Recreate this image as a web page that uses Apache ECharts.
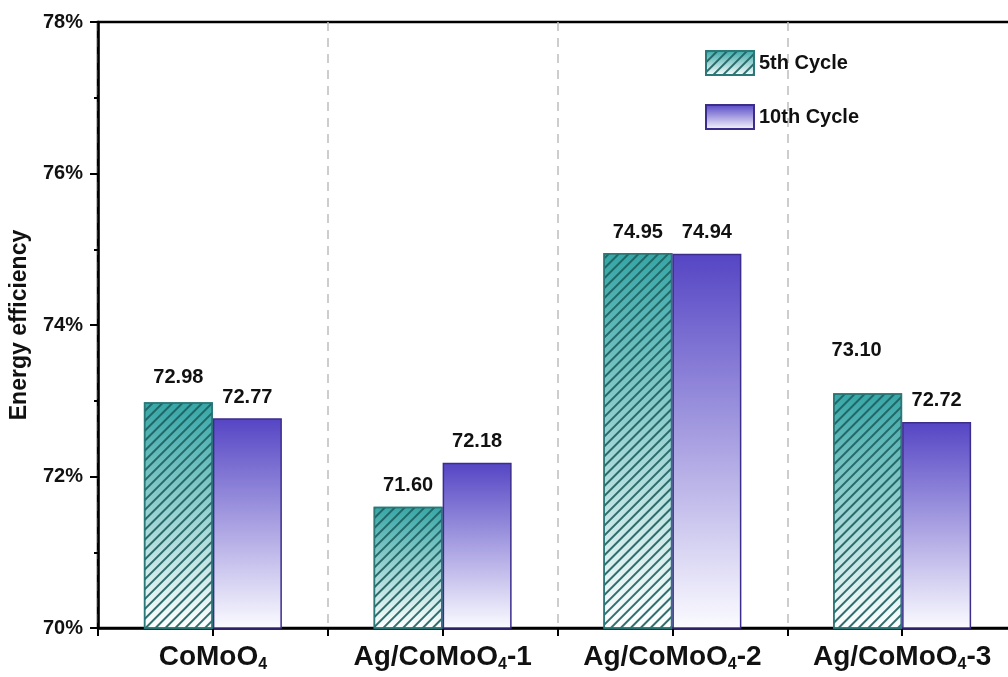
<!DOCTYPE html>
<html>
<head>
<meta charset="utf-8">
<script src="https://cdn.jsdelivr.net/npm/echarts@6/dist/echarts.min.js"></script>
<style>
  html, body { margin: 0; padding: 0; background: #fff; overflow: hidden; }
  #chart { width: 1030px; height: 677px; }
</style>
</head>
<body>
<div id="chart"></div>
<script>
// Energy efficiency of the electrodes after 5 and 10 cycles
const categories = ['CoMoO4', 'Ag/CoMoO4-1', 'Ag/CoMoO4-2', 'Ag/CoMoO4-3'];
const cycle5 = [72.98, 71.60, 74.95, 73.10];
const cycle10 = [72.77, 72.18, 74.94, 72.72];
const seriesNames = ['5th Cycle', '10th Cycle'];
const yTicks = { min: 70, max: 78, step: 2 };

const FONT = 'Liberation Sans, Arial, Helvetica, sans-serif';

// "CoMoO4" -> rich text with the 4 as a subscript
function formulaLabel(name) {
  const parts = name.split('O4');
  return '{m|' + parts[0] + 'O}{s|4}' + (parts[1] ? '{m|' + parts[1] + '}' : '');
}

const chart = echarts.init(document.getElementById('chart'), null, { renderer: 'canvas' });

const tealFill = new echarts.graphic.LinearGradient(0, 0, 0, 1, [
  { offset: 0, color: '#36a6a6' },
  { offset: 1, color: '#ffffff' }
]);
const purpleFill = new echarts.graphic.LinearGradient(0, 0, 0, 1, [
  { offset: 0, color: '#5545c4' },
  { offset: 1, color: '#fbfbff' }
]);

const labelStyle = {
  show: true,
  position: 'top',
  distance: 11,
  fontFamily: FONT,
  fontWeight: 'bold',
  fontSize: 20,
  color: '#111',
  formatter: p => p.value.toFixed(2)
};

const data5 = cycle5.map((v, i) => {
  const item = { value: v };
  // the last 5th-cycle label sits a little higher and to the left
  if (i === 3) item.label = { offset: [-11, -22] };
  if (i === 0) item.label = { offset: [0, -4] };
  return item;
});

chart.setOption({
  animation: false,
  backgroundColor: '#ffffff',
  grid: {
    left: 95, top: 22, width: 922, height: 606,
    show: true, borderColor: '#000', borderWidth: 2.5, backgroundColor: 'transparent'
  },
  legend: {
    orient: 'vertical',
    left: 705, top: 50,
    padding: 0,
    icon: 'rect',
    itemWidth: 48, itemHeight: 24, itemGap: 28,
    textStyle: { fontFamily: FONT, fontWeight: 'bold', fontSize: 20, color: '#111' },
    data: seriesNames
  },
  xAxis: [
    {
      type: 'category',
      data: categories,
      position: 'bottom',
      axisLine: { show: true, lineStyle: { color: '#000', width: 2.5 } },
      axisTick: { show: true, length: 8, inside: false, lineStyle: { color: '#000', width: 2 } },
      splitLine: { show: true, lineStyle: { color: '#bdbdbd', width: 1.5, type: [9, 7] } },
      axisLabel: {
        margin: 13,
        formatter: formulaLabel,
        rich: {
          m: { fontFamily: FONT, fontWeight: 'bold', fontSize: 28, color: '#111', lineHeight: 32 },
          s: { fontFamily: FONT, fontWeight: 'bold', fontSize: 16, color: '#111', lineHeight: 10, verticalAlign: 'bottom' }
        }
      }
    },
    {
      type: 'category',
      data: categories,
      position: 'bottom',
      axisLine: { show: false },
      axisTick: { show: true, alignWithLabel: true, length: 8, lineStyle: { color: '#000', width: 2 } },
      axisLabel: { show: false },
      splitLine: { show: false }
    }
  ],
  yAxis: {
    type: 'value',
    min: yTicks.min, max: yTicks.max, interval: yTicks.step,
    name: 'Energy efficiency',
    nameLocation: 'middle',
    nameGap: 67,
    nameTextStyle: { fontFamily: FONT, fontWeight: 'bold', fontSize: 23, color: '#111' },
    axisLine: { show: true, lineStyle: { color: '#000', width: 2.5 } },
    axisTick: { show: true, length: 8, lineStyle: { color: '#000', width: 2 } },
    minorTick: { show: true, splitNumber: 2, length: 4, lineStyle: { color: '#000', width: 2 } },
    splitLine: { show: false },
    axisLabel: {
      margin: 15,
      formatter: '{value}%',
      fontFamily: FONT, fontWeight: 'bold', fontSize: 20, color: '#111'
    }
  },
  series: [
    {
      name: seriesNames[0],
      type: 'bar',
      xAxisIndex: 0,
      barWidth: 69,
      barGap: '0%',
      data: data5,
      itemStyle: {
        color: tealFill,
        borderColor: '#2b7878',
        borderWidth: 1.5,
        decal: {
          symbol: 'rect',
          symbolSize: 1,
          color: 'rgba(30,95,95,0.9)',
          backgroundColor: null,
          dashArrayX: [1, 0],
          dashArrayY: [1.6, 4.8],
          rotation: -Math.PI / 4
        }
      },
      label: labelStyle
    },
    {
      name: seriesNames[1],
      type: 'bar',
      xAxisIndex: 0,
      barWidth: 69,
      barGap: '0%',
      data: cycle10,
      itemStyle: {
        color: purpleFill,
        borderColor: '#3b2d8c',
        borderWidth: 1.5
      },
      label: labelStyle
    }
  ]
});
</script>
</body>
</html>
